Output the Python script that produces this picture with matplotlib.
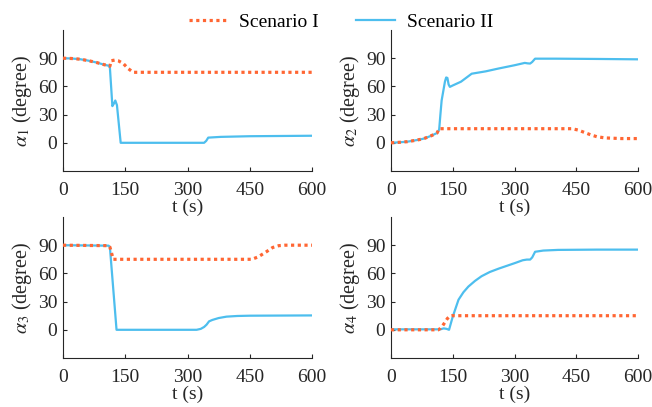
import matplotlib
matplotlib.use("Agg")
import matplotlib.pyplot as plt

plt.rcParams['font.family'] = ['Liberation Serif', 'DejaVu Serif']
plt.rcParams['mathtext.fontset'] = 'stix'
plt.rcParams['font.size'] = 14

# ---------------- data ----------------
# alpha_1
t1_s1 = [0, 20, 40, 60, 80, 100, 110, 113, 116, 125, 133, 145, 157, 169, 600]
a1_s1 = [90, 89.7, 89, 87.5, 85.5, 83, 82, 81.5, 87.3, 88, 87.3, 84.4, 79, 75, 75]
t1_s2 = [0, 20, 40, 60, 80, 100, 110, 113, 119, 123, 126, 130, 139, 340, 345, 350, 380, 450, 600]
a1_s2 = [90, 89.7, 89, 87.5, 85.5, 83, 82, 80, 39, 42, 45, 40, 0, 0, 2, 5.5, 6.3, 7, 7.5]

# alpha_2
t2_s1 = [0, 20, 40, 55, 70, 80, 95, 105, 112, 117, 440, 455, 470, 485, 500, 520, 560, 600]
a2_s1 = [0, 0.5, 1.2, 2.3, 3.5, 4.5, 7, 9, 10.5, 15, 15, 13.5, 11, 8.5, 6.5, 5.2, 4.5, 4.5]
t2_s2 = [0, 20, 40, 55, 70, 80, 95, 105, 112, 117, 120, 123, 127, 131, 134, 137, 140, 143,
         150, 170, 196, 230, 261, 300, 325, 332, 338, 343, 350, 400, 500, 600]
a2_s2 = [0, 0.5, 1.2, 2.3, 3.5, 4.5, 7, 9, 10.5, 14, 30, 45, 55, 65, 69.5, 69, 62, 59.5,
         61, 65, 73.5, 76, 79, 82.5, 85, 84.5, 84.3, 86, 89.5, 89.5, 89.2, 88.8]

# alpha_3
t3_s1 = [0, 110, 113, 118, 121, 455, 470, 490, 505, 520, 535, 600]
a3_s1 = [90, 89.5, 88, 80, 75, 75, 77.5, 83, 87.5, 89.5, 90, 90]
t3_s2 = [0, 110, 113, 129, 322, 332, 340, 346, 352, 360, 375, 394, 420, 450, 600]
a3_s2 = [90, 89.5, 88, 0, 0, 1, 3, 5.5, 9, 10.5, 12.5, 14, 14.7, 15, 15.3]

# alpha_4
t4_s1 = [0, 115, 120, 125, 131, 137, 143, 148, 600]
a4_s1 = [0, 0, 1.5, 4, 8, 12, 14.5, 15, 15]
t4_s2 = [0, 120, 128, 135, 141, 150, 164, 176, 188, 204, 220, 240, 261, 281, 301, 320,
         330, 338, 343, 350, 370, 406, 500, 600]
a4_s2 = [0.5, 0.5, 1.5, 1, 0, 14, 32, 40, 46, 52, 57, 61.5, 65, 68, 71, 74,
         74.7, 74.7, 77, 83, 84.3, 85, 85.3, 85.3]

series = [
    (t1_s1, a1_s1, t1_s2, a1_s2),
    (t2_s1, a2_s1, t2_s2, a2_s2),
    (t3_s1, a3_s1, t3_s2, a3_s2),
    (t4_s1, a4_s1, t4_s2, a4_s2),
]
legend_labels = ['Scenario I', 'Scenario II']
xticks = [0, 150, 300, 450, 600]
yticks = [0, 30, 60, 90]

c_orange = '#FF6633'
c_blue = '#4DBEEE'
axc = '#262626'

W, H = 652, 407
fig = plt.figure(figsize=(W / 100, H / 100), dpi=100)

boxes = [
    (63, 30, 312, 171),
    (391, 30, 638, 171),
    (63, 217, 312, 358),
    (391, 217, 638, 358),
]

handles = None
for i, ((x0, y0, x1, y1), (ta, va, tb, vb)) in enumerate(zip(boxes, series)):
    ax = fig.add_axes([x0 / W, 1 - y1 / H, (x1 - x0) / W, (y1 - y0) / H])
    l2, = ax.plot(tb, vb, color=c_blue, lw=1.6, label=legend_labels[1], zorder=2)
    l1, = ax.plot(ta, va, color=c_orange, lw=2.3, linestyle=(0, (1, 1.1)),
                  dash_capstyle='butt', label=legend_labels[0], zorder=3)
    handles = [l1, l2]
    ax.set_xlim(0, 600)
    ax.set_ylim(-30, 120)
    ax.set_xticks(xticks)
    ax.set_yticks(yticks)
    for s in ['top', 'right']:
        ax.spines[s].set_visible(False)
    for s in ['left', 'bottom']:
        ax.spines[s].set_color(axc)
        ax.spines[s].set_linewidth(0.8)
    ax.tick_params(direction='in', length=3, width=0.8, colors=axc, labelsize=14)
    ax.tick_params(axis='x', pad=8)
    ax.tick_params(axis='y', pad=4)
    ax.set_xlabel('t (s)', color=axc, fontsize=14, labelpad=0)
    ax.set_ylabel(r'$\alpha_{%d}$ (degree)' % (i + 1), color=axc, fontsize=14.5, labelpad=3)

fig.legend(handles, legend_labels, loc='upper center', bbox_to_anchor=(0.523, 1.01),
           ncol=2, frameon=False, fontsize=14, handlelength=2.0, handletextpad=0.6,
           columnspacing=1.9)

fig.savefig('out.png', dpi=100)
